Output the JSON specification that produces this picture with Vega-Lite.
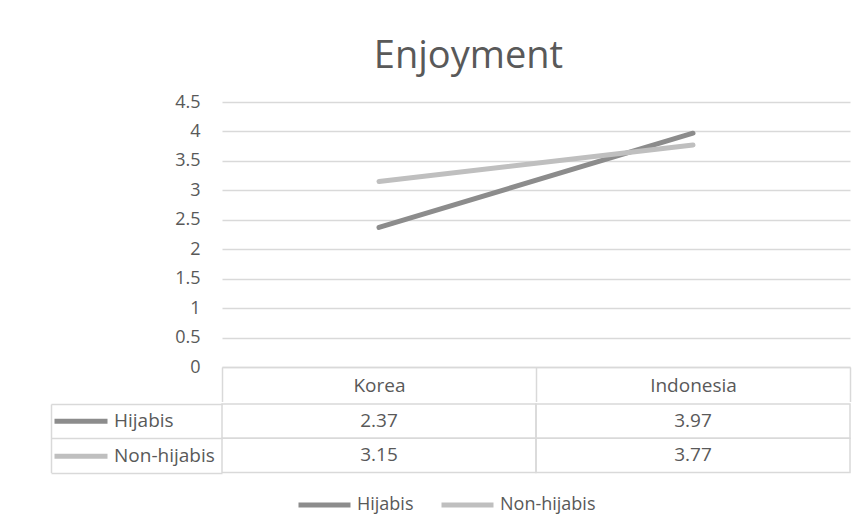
{
  "$schema": "https://vega.github.io/schema/vega-lite/v6.json",
  "background": "white",
  "padding": {"left": 50, "top": 38, "right": 10, "bottom": 10},
  "config": {"font": "Open Sans", "view": {"stroke": null}},
  "title": {"text": "Enjoyment", "fontSize": 38, "fontWeight": "normal", "color": "#595959", "anchor": "middle", "offset": 17, "dx": 18},
  "datasets": {
    "enj": [
      {"country": "Korea", "group": "Hijabis", "value": 2.37},
      {"country": "Indonesia", "group": "Hijabis", "value": 3.97},
      {"country": "Korea", "group": "Non-hijabis", "value": 3.15},
      {"country": "Indonesia", "group": "Non-hijabis", "value": 3.77}
    ]
  },
  "spacing": 0,
  "resolve": {"scale": {"stroke": "independent"}},
  "vconcat": [
    {
      "width": 628,
      "height": 265,
      "data": {"name": "enj"},
      "mark": {"type": "line", "strokeWidth": 5, "strokeCap": "round"},
      "encoding": {
        "x": {
          "field": "country", "type": "nominal", "sort": ["Korea", "Indonesia"],
          "scale": {"type": "band", "paddingInner": 0, "paddingOuter": 0},
          "axis": {
            "title": null, "orient": "bottom",
            "domain": true, "domainColor": "#d9d9d9", "domainWidth": 1.5,
            "ticks": true, "tickBand": "extent", "tickSize": 34.5, "tickColor": "#d9d9d9", "tickWidth": 1.5,
            "labelFontSize": 19, "labelColor": "#595959", "labelBaseline": "middle", "labelPadding": -16,
            "labelAngle": 0
          }
        },
        "y": {
          "field": "value", "type": "quantitative",
          "scale": {"domain": [0, 4.5], "nice": false},
          "axis": {
            "title": null, "values": [0, 0.5, 1, 1.5, 2, 2.5, 3, 3.5, 4, 4.5], "format": "~g",
            "grid": true, "gridColor": "#d9d9d9", "gridWidth": 1.5,
            "domain": false, "ticks": false,
            "labelPadding": 22, "labelFontSize": 18, "labelColor": "#595959"
          }
        },
        "color": {
          "field": "group", "type": "nominal",
          "scale": {"domain": ["Hijabis", "Non-hijabis"], "range": ["#8c8c8c", "#bfbfbf"]},
          "legend": {
            "title": null, "orient": "none", "legendX": 74, "legendY": 393, "direction": "horizontal",
            "symbolType": "stroke", "symbolSize": 2704, "symbolStrokeWidth": 5,
            "clipHeight": 20, "columnPadding": 25,
            "labelFontSize": 18, "labelColor": "#595959", "labelOffset": 4
          }
        }
      }
    },
    {
      "width": 628,
      "height": 68.5,
      "data": {"name": "enj"},
      "encoding": {
        "x": {
          "field": "country", "type": "nominal", "sort": ["Korea", "Indonesia"],
          "scale": {"type": "band", "paddingInner": 0, "paddingOuter": 0},
          "axis": null
        },
        "y": {
          "field": "group", "type": "nominal", "sort": ["Hijabis", "Non-hijabis"],
          "scale": {"type": "band", "paddingInner": 0, "paddingOuter": 0},
          "axis": {
            "title": null, "orient": "left", "offset": 171,
            "domain": true, "domainColor": "#d9d9d9", "domainWidth": 1.5,
            "ticks": true, "tickBand": "extent", "tickSize": -171, "tickColor": "#d9d9d9", "tickWidth": 1.5,
            "labels": false
          }
        }
      },
      "layer": [
        {
          "mark": {"type": "rect", "fill": null, "stroke": "#d9d9d9", "strokeWidth": 1.5}
        },
        {
          "mark": {"type": "text", "fontSize": 19, "color": "#595959", "baseline": "middle", "align": "center"},
          "encoding": {"text": {"field": "value", "type": "quantitative", "format": ".2f"}}
        },
        {
          "mark": {"type": "line", "opacity": 0, "strokeWidth": 5},
          "encoding": {
            "stroke": {
              "field": "group", "type": "nominal",
              "scale": {"domain": ["Hijabis", "Non-hijabis"], "range": ["#8c8c8c", "#bfbfbf"]},
              "legend": {
                "title": null, "orient": "left", "direction": "vertical", "offset": -165,
                "symbolType": "stroke", "symbolSize": 2809, "symbolStrokeWidth": 5, "symbolOpacity": 1,
                "clipHeight": 34.25, "rowPadding": 0,
                "labelFontSize": 19, "labelColor": "#595959", "labelOffset": 4
              }
            }
          }
        }
      ]
    }
  ]
}
